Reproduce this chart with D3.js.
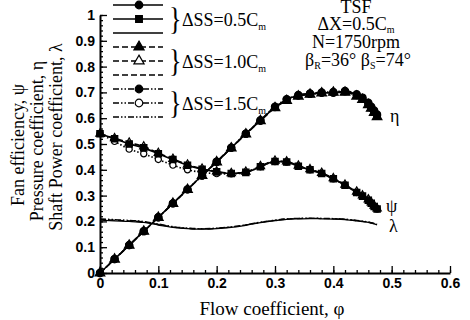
<!DOCTYPE html>
<html>
<head>
<meta charset="utf-8">
<script src="https://cdn.jsdelivr.net/npm/d3@7"></script>
<style>
  body { margin: 0; background: #fff; }
  svg { display: block; }
  .serif { font-family: "Liberation Serif", "DejaVu Serif", serif; fill: #000; }
  .tick text { font-family: "Liberation Sans", Arial, sans-serif; font-weight: bold; font-size: 14px; }
</style>
</head>
<body>
<svg width="470" height="320"></svg>
<script>
// flow coefficient (x)
var phi = [0, 0.025, 0.05, 0.075, 0.1, 0.125, 0.15, 0.175, 0.2, 0.225, 0.25, 0.275, 0.3,
  0.32, 0.34, 0.36, 0.38, 0.4, 0.42, 0.44, 0.45, 0.46, 0.465, 0.47, 0.475];

// fan efficiency (eta)
var eta05 = [0, 0.054, 0.108, 0.162, 0.216, 0.27, 0.324, 0.378, 0.43, 0.485, 0.54, 0.59, 0.643,
  0.672, 0.688, 0.694, 0.698, 0.698, 0.704, 0.69, 0.675, 0.655, 0.64, 0.625, 0.61];
var eta10 = [0, 0.053, 0.107, 0.161, 0.215, 0.269, 0.323, 0.377, 0.43, 0.484, 0.538, 0.59, 0.64,
  0.668, 0.685, 0.692, 0.697, 0.7, 0.7, 0.685, 0.672, 0.652, 0.638, 0.622, 0.605];
var eta15 = [0, 0.054, 0.108, 0.162, 0.216, 0.27, 0.324, 0.378, 0.432, 0.486, 0.54, 0.592, 0.645,
  0.674, 0.69, 0.696, 0.7, 0.702, 0.706, 0.693, 0.68, 0.66, 0.645, 0.63, 0.615];

// pressure coefficient (psi)
var psi05 = [0.54, 0.52, 0.5, 0.485, 0.462, 0.44, 0.418, 0.402, 0.392, 0.386, 0.39, 0.412, 0.432,
  0.43, 0.414, 0.4, 0.386, 0.365, 0.34, 0.312, 0.298, 0.282, 0.27, 0.258, 0.248];
var psi10 = [0.54, 0.522, 0.505, 0.49, 0.465, 0.442, 0.42, 0.404, 0.393, 0.387, 0.392, 0.414, 0.435,
  0.432, 0.416, 0.402, 0.388, 0.367, 0.342, 0.315, 0.3, 0.285, 0.273, 0.261, 0.25];
var psi15 = [0.54, 0.51, 0.48, 0.462, 0.44, 0.418, 0.4, 0.39, 0.385, 0.384, 0.39, 0.412, 0.432,
  0.43, 0.414, 0.4, 0.386, 0.365, 0.34, 0.312, 0.298, 0.282, 0.27, 0.258, 0.248];

// shaft power coefficient (lambda)
var lam05 = [0.205, 0.202, 0.2, 0.196, 0.186, 0.177, 0.172, 0.17, 0.172, 0.177, 0.185, 0.195, 0.203,
  0.208, 0.21, 0.211, 0.21, 0.209, 0.207, 0.202, 0.199, 0.196, 0.193, 0.19, 0.187];
var lam10 = [0.208, 0.205, 0.202, 0.198, 0.188, 0.178, 0.173, 0.171, 0.173, 0.178, 0.186, 0.196, 0.204,
  0.209, 0.211, 0.212, 0.211, 0.21, 0.208, 0.203, 0.2, 0.197, 0.194, 0.191, 0.188];
var lam15 = [0.21, 0.207, 0.204, 0.2, 0.19, 0.18, 0.174, 0.172, 0.174, 0.179, 0.187, 0.197, 0.205,
  0.21, 0.212, 0.213, 0.212, 0.211, 0.209, 0.204, 0.201, 0.198, 0.195, 0.192, 0.189];

var xTicks = [0, 0.1, 0.2, 0.3, 0.4, 0.5, 0.6];
var xTickLabels = ["0", "0.1", "0.2", "0.3", "0.4", "0.5", "0.6"];
var yTicks = [0, 0.1, 0.2, 0.3, 0.4, 0.5, 0.6, 0.7, 0.8, 0.9, 1];
var yTickLabels = ["0", "0.1", "0.2", "0.3", "0.4", "0.5", "0.6", "0.7", "0.8", "0.9", "1"];

var groupNames = ["0.5", "1.0", "1.5"];

var svg = d3.select("svg");
var x = d3.scaleLinear().domain([0, 0.6]).range([100, 450]);
var y = d3.scaleLinear().domain([0, 1]).range([273, 15]);

// dash patterns per ΔSS group
var dashes = { "0.5": null, "1.0": "6,3", "1.5": "6,2,1.5,2,1.5,2" };

// legend order
var series = [
  { g: "0.5", v: eta05, sym: d3.symbolCircle, fill: "#000", z: 3 },
  { g: "0.5", v: psi05, sym: d3.symbolSquare, fill: "#000", z: 3 },
  { g: "0.5", v: lam05, sym: null, z: 0 },
  { g: "1.0", v: eta10, sym: d3.symbolTriangle, fill: "#000", z: 2 },
  { g: "1.0", v: psi10, sym: d3.symbolTriangle, fill: "#fff", z: 1 },
  { g: "1.0", v: lam10, sym: null, z: 0 },
  { g: "1.5", v: eta15, sym: d3.symbolCircle, fill: "#000", z: 2 },
  { g: "1.5", v: psi15, sym: d3.symbolCircle, fill: "#fff", z: 1 },
  { g: "1.5", v: lam15, sym: null, z: 0 }
];

// axes (ticks point inward)
var minorX = d3.range(0, 0.6001, 0.02);
var minorY = d3.range(0, 1.0001, 0.02);
svg.append("g").attr("transform", "translate(0,273)")
  .call(d3.axisBottom(x).tickValues(minorX).tickSize(-3).tickFormat(""))
  .call(g => g.select(".domain").remove());
svg.append("g").attr("transform", "translate(100,0)")
  .call(d3.axisLeft(y).tickValues(minorY).tickSize(-3).tickFormat(""))
  .call(g => g.select(".domain").remove());

svg.append("g").attr("transform", "translate(0,273)")
  .call(d3.axisBottom(x).tickValues(xTicks).tickSizeInner(-7).tickSizeOuter(0).tickPadding(5)
    .tickFormat((d, i) => xTickLabels[i]));
svg.append("g").attr("transform", "translate(100,0)")
  .call(d3.axisLeft(y).tickValues(yTicks).tickSizeInner(-7).tickSizeOuter(0).tickPadding(5)
    .tickFormat((d, i) => yTickLabels[i]));
svg.selectAll(".domain").attr("stroke-width", 2);
svg.selectAll(".tick line").attr("stroke-width", 1.3);

// curves: lines first, then markers (open ones under filled ones)
var line = d3.line().x(d => x(d[0])).y(d => y(d[1])).curve(d3.curveMonotoneX);
series.forEach(function (s) {
  s.pts = phi.map((p, i) => [p, s.v[i]]);
  svg.append("path").datum(s.pts)
    .attr("fill", "none").attr("stroke", "#000").attr("stroke-width", s.sym ? 1.6 : 1.3)
    .attr("stroke-dasharray", dashes[s.g])
    .attr("d", line);
});
series.filter(s => s.sym).sort((a, b) => a.z - b.z).forEach(function (s) {
  svg.append("g").selectAll("path").data(s.pts).join("path")
    .attr("transform", d => "translate(" + x(d[0]) + "," + y(d[1]) + ")")
    .attr("d", d3.symbol().type(s.sym).size(s.fill === "#fff" ? 30 : 40))
    .attr("fill", s.fill).attr("stroke", "#000").attr("stroke-width", 1.2);
});

// legend
var legend = svg.append("g");
series.forEach(function (s, i) {
  var ly = 5 + i * 14;
  legend.append("line").attr("x1", 113).attr("x2", 163).attr("y1", ly).attr("y2", ly)
    .attr("stroke", "#000").attr("stroke-width", 1.6).attr("stroke-dasharray", dashes[s.g]);
  if (s.sym) {
    legend.append("path").attr("transform", "translate(139," + ly + ")")
      .attr("d", d3.symbol().type(s.sym).size(45))
      .attr("fill", s.fill).attr("stroke", "#000").attr("stroke-width", 1.2);
  }
});
groupNames.forEach(function (g, i) {
  var cy = 20 + i * 42;
  legend.append("text").attr("class", "serif")
    .attr("transform", "translate(169," + (cy + 10) + ") scale(1,1.25)")
    .style("font-size", "26px").text("}");
  var t = legend.append("text").attr("class", "serif")
    .attr("x", 182).attr("y", cy + 6).style("font-size", "18px")
    .text("\u0394SS=" + g + "C");
  t.append("tspan").attr("dy", 4).style("font-size", "10px").text("m");
});

// annotation
var ann = svg.append("g").attr("class", "serif").style("font-size", "18px").attr("text-anchor", "middle");
ann.append("text").attr("x", 356).attr("y", 13).text("TSF");
var a2 = ann.append("text").attr("x", 356).attr("y", 30).text("\u0394X=0.5C");
a2.append("tspan").attr("dy", 3).style("font-size", "10px").text("m");
ann.append("text").attr("x", 356).attr("y", 48).text("N=1750rpm");
var a4 = ann.append("text").attr("x", 358).attr("y", 66);
a4.append("tspan").text("\u03b2");
a4.append("tspan").attr("dy", 3).style("font-size", "10px").text("R");
a4.append("tspan").attr("dy", -3).text("=36\u00b0 \u03b2");
a4.append("tspan").attr("dy", 3).style("font-size", "10px").text("S");
a4.append("tspan").attr("dy", -3).text("=74\u00b0");

// curve labels
var lab = svg.append("g").attr("class", "serif").style("font-size", "18px");
lab.append("text").attr("x", 390).attr("y", 122).text("\u03b7");
lab.append("text").attr("x", 386).attr("y", 212).text("\u03c8");
lab.append("text").attr("x", 389).attr("y", 232).text("\u03bb");

// axis titles
svg.append("text").attr("class", "serif").style("font-size", "19px")
  .attr("text-anchor", "middle").attr("x", 272).attr("y", 315)
  .text("Flow coefficient, \u03c6");
var yTitles = ["Fan efficiency, \u03c8", "Pressure coefficient, \u03b7", "Shaft Power coefficient, \u03bb"];
var yTitleX = [24, 43, 62];
var yTitleC = [145, 141, 137];
yTitles.forEach(function (t, i) {
  svg.append("text").attr("class", "serif").style("font-size", "18px")
    .attr("text-anchor", "middle")
    .attr("transform", "translate(" + yTitleX[i] + "," + yTitleC[i] + ") rotate(-90)")
    .text(t);
});
</script>
</body>
</html>
